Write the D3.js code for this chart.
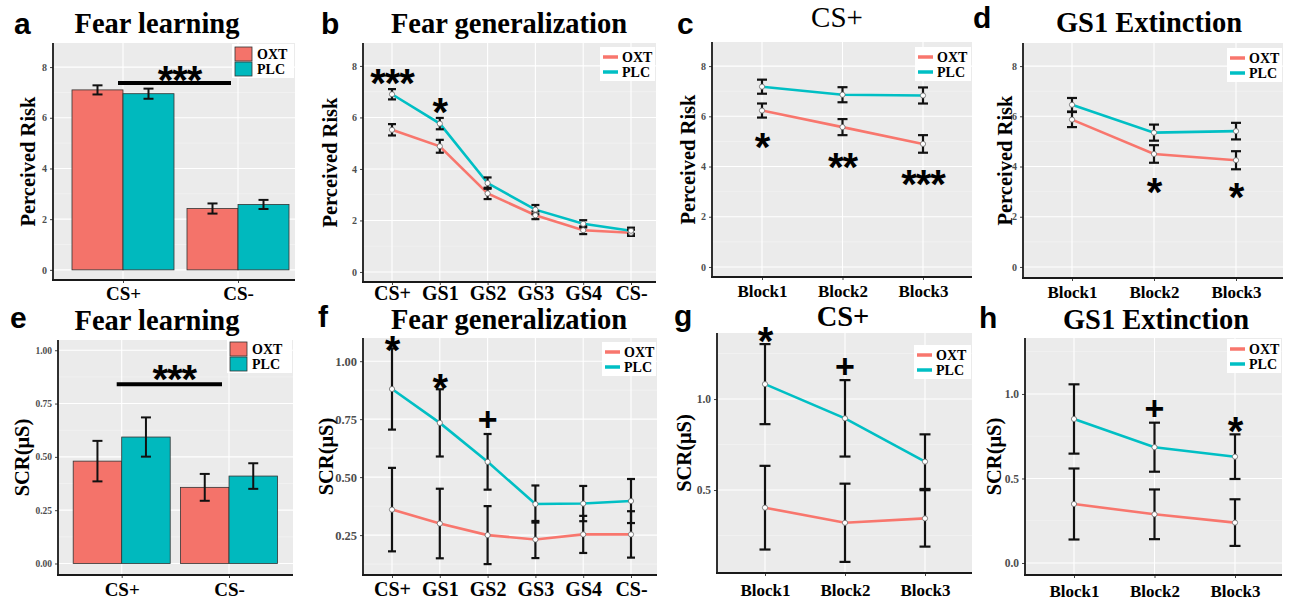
<!DOCTYPE html>
<html><head><meta charset="utf-8">
<script src="https://cdn.jsdelivr.net/npm/d3@7"></script>
<style>body{margin:0;background:#fff;} svg{display:block;}</style>
</head><body>
<svg id="fig" width="1294" height="604"></svg>
<script>
// ---------------- DATA ----------------
const groups = ["OXT", "PLC"];
const catsLearn = ["CS+", "CS-"];
const catsGen = ["CS+", "GS1", "GS2", "GS3", "GS4", "CS-"];
const catsBlock = ["Block1", "Block2", "Block3"];

// a: Fear learning, perceived risk
const riskLearnOXT = [7.10, 2.42];
const riskLearnOXTse = [0.18, 0.20];
const riskLearnPLC = [6.95, 2.58];
const riskLearnPLCse = [0.20, 0.18];
// b: Fear generalization, perceived risk
const riskGenOXT = [5.52, 4.88, 3.05, 2.20, 1.62, 1.52];
const riskGenOXTse = [0.22, 0.25, 0.22, 0.15, 0.15, 0.12];
const riskGenPLC = [6.90, 5.76, 3.45, 2.42, 1.87, 1.60];
const riskGenPLCse = [0.20, 0.22, 0.22, 0.18, 0.14, 0.12];
// c: CS+ extinction blocks, perceived risk
const riskCsOXT = [6.23, 5.57, 4.90];
const riskCsOXTse = [0.28, 0.32, 0.35];
const riskCsPLC = [7.18, 6.86, 6.83];
const riskCsPLCse = [0.28, 0.30, 0.32];
// d: GS1 extinction, perceived risk
const riskGs1OXT = [5.87, 4.50, 4.25];
const riskGs1OXTse = [0.30, 0.35, 0.36];
const riskGs1PLC = [6.46, 5.35, 5.41];
const riskGs1PLCse = [0.27, 0.32, 0.33];
// e: Fear learning, SCR
const scrLearnOXT = [0.480, 0.357];
const scrLearnOXTse = [0.095, 0.063];
const scrLearnPLC = [0.593, 0.410];
const scrLearnPLCse = [0.092, 0.060];
// f: Fear generalization, SCR
const scrGenOXT = [0.360, 0.300, 0.250, 0.231, 0.253, 0.253];
const scrGenOXTse = [0.180, 0.150, 0.125, 0.080, 0.080, 0.100];
const scrGenPLC = [0.880, 0.734, 0.566, 0.384, 0.386, 0.397];
const scrGenPLCse = [0.175, 0.145, 0.120, 0.080, 0.076, 0.095];
// g: CS+ extinction, SCR
const scrCsOXT = [0.403, 0.320, 0.344];
const scrCsOXTse = [0.230, 0.215, 0.155];
const scrCsPLC = [1.082, 0.894, 0.656];
const scrCsPLCse = [0.220, 0.210, 0.150];
// h: GS1 extinction, SCR
const scrGs1OXT = [0.349, 0.288, 0.239];
const scrGs1OXTse = [0.210, 0.147, 0.138];
const scrGs1PLC = [0.852, 0.685, 0.629];
const scrGs1PLCse = [0.205, 0.145, 0.132];

// tick values
const riskTicks = [0, 2, 4, 6, 8];
const scrLearnTicks = [0, 0.25, 0.5, 0.75, 1.0];
const scrGenTicks = [0.25, 0.5, 0.75, 1.0];
const scrCsTicks = [0.5, 1.0];
const scrGs1Ticks = [0, 0.5, 1.0];

// significance annotations (category, label, y value)
const sigA = [{ label: "***", y: 7.85, bar: 7.37 }];
const sigB = [{ cat: "CS+", label: "***", y: 7.69 }, { cat: "GS1", label: "*", y: 6.56 }];
const sigC = [{ cat: "Block1", label: "*", y: 5.14 }, { cat: "Block2", label: "**", y: 4.34 }, { cat: "Block3", label: "***", y: 3.67 }];
const sigD = [{ cat: "Block2", label: "*", y: 3.35 }, { cat: "Block3", label: "*", y: 3.15 }];
const sigE = [{ label: "***", y: 0.91, bar: 0.84 }];
const sigF = [{ cat: "CS+", label: "*", y: 1.09 }, { cat: "GS1", label: "*", y: 0.927 }, { cat: "GS2", label: "+", y: 0.75 }];
const sigG = [{ cat: "Block1", label: "*", y: 1.368 }, { cat: "Block2", label: "+", y: 1.181 }];
const sigH = [{ cat: "Block2", label: "+", y: 0.917 }, { cat: "Block3", label: "*", y: 0.834 }];

// ---------------- STYLE ----------------
const colOXT = "#F8766D", colPLC = "#00BFC4";
const barOXT = "#F4736A", barPLC = "#00B9BE";
const SERIF = "'Liberation Serif','Times New Roman',serif";
const SANS = "'Liberation Sans',Arial,sans-serif";
const svg = d3.select("#fig");

function series(o, ose, p, pse) {
  return [{ name: groups[0], col: colOXT, fill: barOXT, vals: o, se: ose },
          { name: groups[1], col: colPLC, fill: barPLC, vals: p, se: pse }];
}

function sigText(g, x, yPix, label, fs) {
  const isPlus = label === "+";
  const off = isPlus ? 0.36 * fs : 0.585 * fs;
  g.append("text").attr("x", x).attr("y", yPix + off)
    .attr("text-anchor", "middle").attr("font-family", SANS).attr("font-weight", "bold")
    .attr("font-size", fs).attr("fill", "#000").attr("letter-spacing", isPlus ? 0 : -1)
    .text(label);
}

function drawPanel(c) {
  const g = svg.append("g");
  const x = d3.scalePoint().domain(c.cats).range([c.xFirst, c.xLast]);
  const y = d3.scaleLinear().domain(c.yDomain).range([c.y1, c.y0]);

  // background
  g.append("rect").attr("x", c.x0).attr("y", c.y0).attr("width", c.x1 - c.x0).attr("height", c.y1 - c.y0).attr("fill", "#EBEBEB");
  // minor grid
  const minor = [];
  for (let i = 0; i < c.ticks.length - 1; i++) minor.push((c.ticks[i] + c.ticks[i + 1]) / 2);
  const dt = c.ticks[1] - c.ticks[0];
  minor.push(c.ticks[c.ticks.length - 1] + dt / 2);
  minor.unshift(c.ticks[0] - dt / 2);
  minor.filter(v => v > c.yDomain[0] && v < c.yDomain[1]).forEach(v => {
    g.append("line").attr("x1", c.x0).attr("x2", c.x1).attr("y1", y(v)).attr("y2", y(v)).attr("stroke", "#F5F5F5").attr("stroke-width", 0.6);
  });
  c.ticks.forEach(v => {
    g.append("line").attr("x1", c.x0).attr("x2", c.x1).attr("y1", y(v)).attr("y2", y(v)).attr("stroke", "#FFFFFF").attr("stroke-width", 1.1);
  });
  c.cats.forEach(k => {
    g.append("line").attr("x1", x(k)).attr("x2", x(k)).attr("y1", c.y0).attr("y2", c.y1).attr("stroke", "#FFFFFF").attr("stroke-width", 1.1);
  });

  if (c.type === "bar") {
    const w = c.barW;
    c.series.forEach((s, si) => {
      c.cats.forEach((k, i) => {
        const bx = x(k) + (si === 0 ? -w : 0);
        g.append("rect").attr("x", bx).attr("y", y(s.vals[i])).attr("width", w)
          .attr("height", y(0) - y(s.vals[i])).attr("fill", s.fill).attr("stroke", "#333").attr("stroke-width", 0.8);
      });
    });
    c.series.forEach((s, si) => {
      c.cats.forEach((k, i) => {
        const cx = x(k) + (si === 0 ? -w / 2 : w / 2);
        const yt = y(s.vals[i] + s.se[i]), yb = y(s.vals[i] - s.se[i]);
        g.append("line").attr("x1", cx).attr("x2", cx).attr("y1", yt).attr("y2", yb).attr("stroke", "#111").attr("stroke-width", 2);
        [yt, yb].forEach(yy => g.append("line").attr("x1", cx - c.capW / 2).attr("x2", cx + c.capW / 2).attr("y1", yy).attr("y2", yy).attr("stroke", "#111").attr("stroke-width", 2));
      });
    });
  } else {
    const line = d3.line().x((d, i) => x(c.cats[i])).y(d => y(d));
    c.series.forEach(s => {
      g.append("path").attr("d", line(s.vals)).attr("fill", "none").attr("stroke", s.col).attr("stroke-width", 2.6);
    });
    c.series.forEach(s => {
      c.cats.forEach((k, i) => {
        const cx = x(k);
        const yt = y(s.vals[i] + s.se[i]), yb = y(s.vals[i] - s.se[i]);
        g.append("line").attr("x1", cx).attr("x2", cx).attr("y1", yt).attr("y2", yb).attr("stroke", "#111").attr("stroke-width", 2.2);
        [yt, yb].forEach(yy => g.append("line").attr("x1", cx - c.capW / 2).attr("x2", cx + c.capW / 2).attr("y1", yy).attr("y2", yy).attr("stroke", "#111").attr("stroke-width", 2.2));
      });
    });
    c.series.forEach(s => {
      c.cats.forEach((k, i) => {
        g.append("circle").attr("cx", x(k)).attr("cy", y(s.vals[i])).attr("r", 2.6).attr("fill", "#fff").attr("stroke", "#666").attr("stroke-width", 0.8);
      });
    });
  }

  // axes
  const yAxis = d3.axisLeft(y).tickValues(c.ticks).tickSize(3).tickPadding(3).tickFormat(d3.format(c.fmt));
  const ga = g.append("g").attr("transform", `translate(${c.x0},0)`).call(yAxis);
  ga.select(".domain").remove();
  ga.selectAll(".tick line").attr("stroke", "#444");
  ga.selectAll(".tick text").attr("font-family", SERIF).attr("font-weight", "bold").attr("font-size", c.tickFs).attr("fill", "#4D4D4D");
  const xAxis = d3.axisBottom(x).tickSize(3).tickPadding(c.xPad);
  const gx = g.append("g").attr("transform", `translate(0,${c.y1})`).call(xAxis);
  gx.select(".domain").remove();
  gx.selectAll(".tick line").attr("stroke", "#444");
  gx.selectAll(".tick text").attr("font-family", SERIF).attr("font-weight", "bold").attr("font-size", c.xFs).attr("fill", "#000");
  g.append("line").attr("x1", c.x0).attr("x2", c.x0).attr("y1", c.y0).attr("y2", c.y1 + 1).attr("stroke", "#1a1a1a").attr("stroke-width", 1.8);
  g.append("line").attr("x1", c.x0 - 1).attr("x2", c.x1).attr("y1", c.y1).attr("y2", c.y1).attr("stroke", "#1a1a1a").attr("stroke-width", 1.8);

  // y label
  g.append("text").attr("transform", `translate(${c.ylabX},${(c.y0 + c.y1) / 2}) rotate(-90)`)
    .attr("text-anchor", "middle").attr("font-family", SERIF).attr("font-weight", "bold").attr("font-size", 20.5).text(c.ylab);
  // title
  g.append("text").attr("x", c.titleX).attr("y", c.titleY).attr("text-anchor", "middle")
    .attr("font-family", SERIF).attr("font-weight", c.titleBold ? "bold" : "normal").attr("font-size", c.titleFs).text(c.title);
  // panel letter
  g.append("text").attr("x", c.letterX).attr("y", c.letterY).attr("font-family", SANS).attr("font-weight", "bold")
    .attr("font-size", 30).text(c.letter);

  // legend
  const lg = g.append("g");
  lg.append("rect").attr("x", c.legX - 3).attr("y", c.legY - 10).attr("width", c.x1 - c.legX + 2).attr("height", 34).attr("fill", "#fff");
  c.series.forEach((s, si) => {
    const yy = c.legY + si * 15;
    if (c.type === "bar") {
      lg.append("rect").attr("x", c.legX).attr("y", yy - 7).attr("width", 17).attr("height", 14).attr("fill", s.fill).attr("stroke", "#333").attr("stroke-width", 0.8);
      lg.append("text").attr("x", c.legX + 22).attr("y", yy + 5).attr("font-family", SERIF).attr("font-weight", "bold").attr("font-size", 14).text(s.name);
    } else {
      lg.append("line").attr("x1", c.legX).attr("x2", c.legX + 15).attr("y1", yy).attr("y2", yy).attr("stroke", s.col).attr("stroke-width", 3.5);
      lg.append("text").attr("x", c.legX + 19).attr("y", yy + 5).attr("font-family", SERIF).attr("font-weight", "bold").attr("font-size", 14).text(s.name);
    }
  });

  // significance
  c.sig.forEach(s => {
    if (s.bar !== undefined) {
      const xa = x(c.cats[0]) - 5, xb = x(c.cats[1]) - 7;
      g.append("line").attr("x1", xa).attr("x2", xb).attr("y1", y(s.bar)).attr("y2", y(s.bar)).attr("stroke", "#000").attr("stroke-width", 4);
      sigText(g, (xa + xb) / 2 + 5, y(s.y), s.label, 40);
    } else {
      sigText(g, x(s.cat), y(s.y), s.label, s.label === "+" ? 34 : 40);
    }
  });
}

const panels = [
  { letter: "a", title: "Fear learning", titleBold: true, titleFs: 28.5, titleX: 157, titleY: 33, letterX: 14, letterY: 34,
    type: "bar", cats: catsLearn, series: series(riskLearnOXT, riskLearnOXTse, riskLearnPLC, riskLearnPLCse),
    x0: 53, x1: 295, y0: 43, y1: 280, xFirst: 123, xLast: 238, barW: 51, capW: 10,
    yDomain: [-0.4, 8.95], ticks: riskTicks, fmt: "d", tickFs: 10, xFs: 19, xPad: 4,
    ylab: "Perceived Risk", ylabX: 35, legX: 235, legY: 54, sig: sigA },
  { letter: "b", title: "Fear generalization", titleBold: true, titleFs: 28.5, titleX: 509, titleY: 33, letterX: 321, letterY: 34,
    type: "line", cats: catsGen, series: series(riskGenOXT, riskGenOXTse, riskGenPLC, riskGenPLCse),
    x0: 363, x1: 656, y0: 43, y1: 282, xFirst: 392, xLast: 631, capW: 8,
    yDomain: [-0.39, 8.89], ticks: riskTicks, fmt: "d", tickFs: 10, xFs: 20, xPad: 1,
    ylab: "Perceived Risk", ylabX: 337, legX: 603, legY: 57, sig: sigB },
  { letter: "c", title: "CS+", titleBold: false, titleFs: 29, titleX: 837, titleY: 27, letterX: 677, letterY: 34,
    type: "line", cats: catsBlock, series: series(riskCsOXT, riskCsOXTse, riskCsPLC, riskCsPLCse),
    x0: 712, x1: 972, y0: 42, y1: 277, xFirst: 762, xLast: 923, capW: 10,
    yDomain: [-0.4, 8.96], ticks: riskTicks, fmt: "d", tickFs: 10, xFs: 17, xPad: 5,
    ylab: "Perceived Risk", ylabX: 695, legX: 918, legY: 57, sig: sigC },
  { letter: "d", title: "GS1 Extinction", titleBold: true, titleFs: 28.5, titleX: 1149, titleY: 32, letterX: 973, letterY: 28,
    type: "line", cats: catsBlock, series: series(riskGs1OXT, riskGs1OXTse, riskGs1PLC, riskGs1PLCse),
    x0: 1023, x1: 1283, y0: 43, y1: 278, xFirst: 1072, xLast: 1236, capW: 10,
    yDomain: [-0.44, 8.92], ticks: riskTicks, fmt: "d", tickFs: 10, xFs: 17, xPad: 5,
    ylab: "Perceived Risk", ylabX: 1012, legX: 1230, legY: 58, sig: sigD },
  { letter: "e", title: "Fear learning", titleBold: true, titleFs: 28.5, titleX: 157, titleY: 330, letterX: 10, letterY: 328,
    type: "bar", cats: catsLearn, series: series(scrLearnOXT, scrLearnOXTse, scrLearnPLC, scrLearnPLCse),
    x0: 58, x1: 293, y0: 340, y1: 575, xFirst: 121.7, xLast: 229, barW: 48.5, capW: 10,
    yDomain: [-0.054, 1.048], ticks: scrLearnTicks, fmt: ".2f", tickFs: 9.5, xFs: 19, xPad: 5,
    ylab: "SCR(μS)", ylabX: 29, legX: 230, legY: 349, sig: sigE },
  { letter: "f", title: "Fear generalization", titleBold: true, titleFs: 28.5, titleX: 509, titleY: 329, letterX: 318, letterY: 327,
    type: "line", cats: catsGen, series: series(scrGenOXT, scrGenOXTse, scrGenPLC, scrGenPLCse),
    x0: 363, x1: 657, y0: 338, y1: 575, xFirst: 392, xLast: 631, capW: 8,
    yDomain: [0.078, 1.1], ticks: scrGenTicks, fmt: ".2f", tickFs: 12.5, xFs: 20, xPad: 4,
    ylab: "SCR(μS)", ylabX: 333, legX: 605, legY: 352, sig: sigF },
  { letter: "g", title: "CS+", titleBold: true, titleFs: 28.5, titleX: 843, titleY: 326, letterX: 674, letterY: 326,
    type: "line", cats: catsBlock, series: series(scrCsOXT, scrCsOXTse, scrCsPLC, scrCsPLCse),
    x0: 717, x1: 972, y0: 333, y1: 573, xFirst: 765, xLast: 925, capW: 11,
    yDomain: [0.044, 1.363], ticks: scrCsTicks, fmt: ".1f", tickFs: 11.5, xFs: 17, xPad: 8,
    ylab: "SCR(μS)", ylabX: 691, legX: 917, legY: 355, sig: sigG },
  { letter: "h", title: "GS1 Extinction", titleBold: true, titleFs: 28.5, titleX: 1156, titleY: 329, letterX: 979, letterY: 328,
    type: "line", cats: catsBlock, series: series(scrGs1OXT, scrGs1OXTse, scrGs1PLC, scrGs1PLCse),
    x0: 1025, x1: 1282, y0: 338, y1: 575, xFirst: 1074, xLast: 1235, capW: 11,
    yDomain: [-0.071, 1.331], ticks: scrGs1Ticks, fmt: ".1f", tickFs: 11.5, xFs: 17, xPad: 7,
    ylab: "SCR(μS)", ylabX: 1001, legX: 1230, legY: 349, sig: sigH }
];
panels.forEach(drawPanel);
</script>
</body></html>
